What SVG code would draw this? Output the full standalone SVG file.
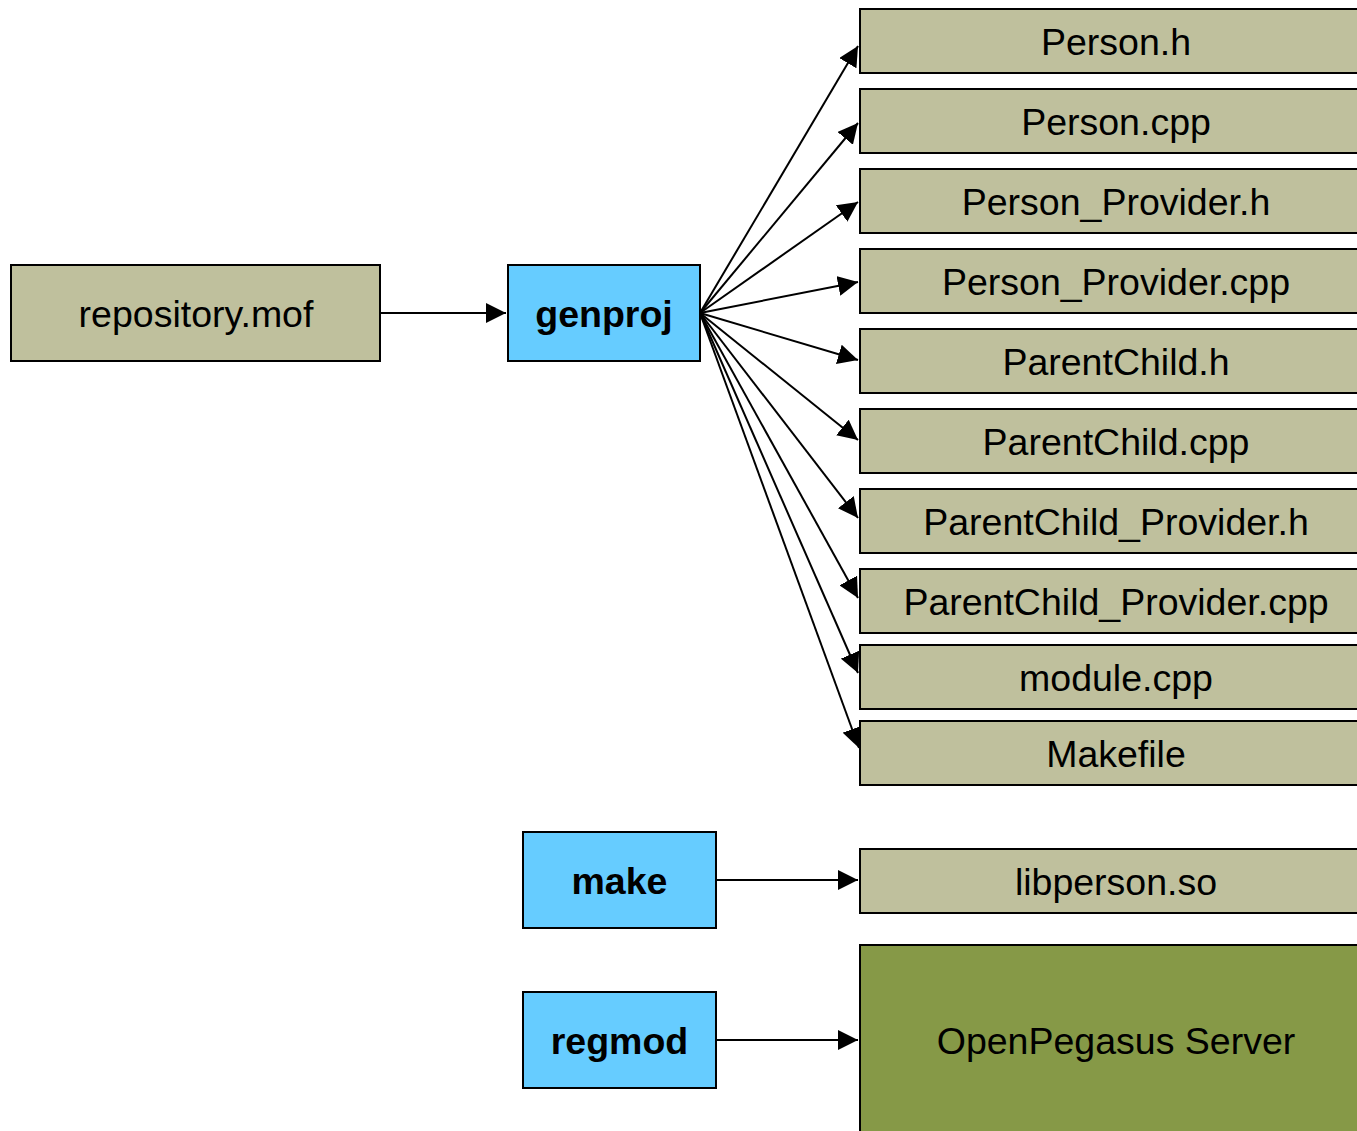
<svg xmlns="http://www.w3.org/2000/svg" width="1357" height="1131" viewBox="0 0 1357 1131">
<style>
.file{fill:#BFC09D;stroke:#000;stroke-width:2}
.tool{fill:#66CCFF;stroke:#000;stroke-width:2}
.srv{fill:#869947;stroke:#000;stroke-width:2}
text{font-family:"Liberation Sans",Arial,sans-serif;font-size:37.5px;fill:#000;text-anchor:middle}
.b{font-weight:bold}
.c line{stroke:#000;stroke-width:2;marker-end:url(#ah)}
</style>
<defs>
<marker id="ah" markerUnits="userSpaceOnUse" markerWidth="22" markerHeight="20" refX="20" refY="10" orient="auto">
<path d="M0,0 L20,10 L0,20 Z" fill="#000"/>
</marker>
</defs>
<rect width="1357" height="1131" fill="#fff"/>
<g class="c">
<line x1="380" y1="313" x2="506" y2="313"/>
<line x1="700" y1="313" x2="858" y2="46"/>
<line x1="700" y1="313" x2="858" y2="123"/>
<line x1="700" y1="313" x2="858" y2="202"/>
<line x1="700" y1="313" x2="858" y2="282"/>
<line x1="700" y1="313" x2="858" y2="360"/>
<line x1="700" y1="313" x2="858" y2="440"/>
<line x1="700" y1="313" x2="858" y2="518"/>
<line x1="700" y1="313" x2="858" y2="598"/>
<line x1="700" y1="313" x2="858" y2="673"/>
<line x1="700" y1="313" x2="859" y2="748"/>
<line x1="716" y1="880" x2="858" y2="880"/>
<line x1="716" y1="1040" x2="858" y2="1040"/>
</g>
<g id="repository"><rect class="file" x="11" y="265" width="369" height="96"/><text x="196" y="327">repository.mof</text></g>
<g id="genproj"><rect class="tool" x="508" y="265" width="192" height="96"/><text class="b" x="604" y="327">genproj</text></g>
<g id="make"><rect class="tool" x="523" y="832" width="193" height="96"/><text class="b" x="619.5" y="894">make</text></g>
<g id="regmod"><rect class="tool" x="523" y="992" width="193" height="96"/><text class="b" x="619.5" y="1054">regmod</text></g>
<g id="person_h"><rect class="file" x="860" y="9" width="520" height="64"/><text x="1116" y="55">Person.h</text></g>
<g id="person_cpp"><rect class="file" x="860" y="89" width="520" height="64"/><text x="1116" y="135">Person.cpp</text></g>
<g id="person_provider_h"><rect class="file" x="860" y="169" width="520" height="64"/><text x="1116" y="215">Person_Provider.h</text></g>
<g id="person_provider_cpp"><rect class="file" x="860" y="249" width="520" height="64"/><text x="1116" y="295">Person_Provider.cpp</text></g>
<g id="parentchild_h"><rect class="file" x="860" y="329" width="520" height="64"/><text x="1116" y="375">ParentChild.h</text></g>
<g id="parentchild_cpp"><rect class="file" x="860" y="409" width="520" height="64"/><text x="1116" y="455">ParentChild.cpp</text></g>
<g id="parentchild_provider_h"><rect class="file" x="860" y="489" width="520" height="64"/><text x="1116" y="535">ParentChild_Provider.h</text></g>
<g id="parentchild_provider_cpp"><rect class="file" x="860" y="569" width="520" height="64"/><text x="1116" y="615">ParentChild_Provider.cpp</text></g>
<g id="module_cpp"><rect class="file" x="860" y="645" width="520" height="64"/><text x="1116" y="691">module.cpp</text></g>
<g id="makefile"><rect class="file" x="860" y="721" width="520" height="64"/><text x="1116" y="767">Makefile</text></g>
<g id="libperson"><rect class="file" x="860" y="849" width="520" height="64"/><text x="1116" y="895">libperson.so</text></g>
<g id="openpegasus"><rect class="srv" x="860" y="945" width="520" height="200"/><text x="1116" y="1054">OpenPegasus Server</text></g>
</svg>
